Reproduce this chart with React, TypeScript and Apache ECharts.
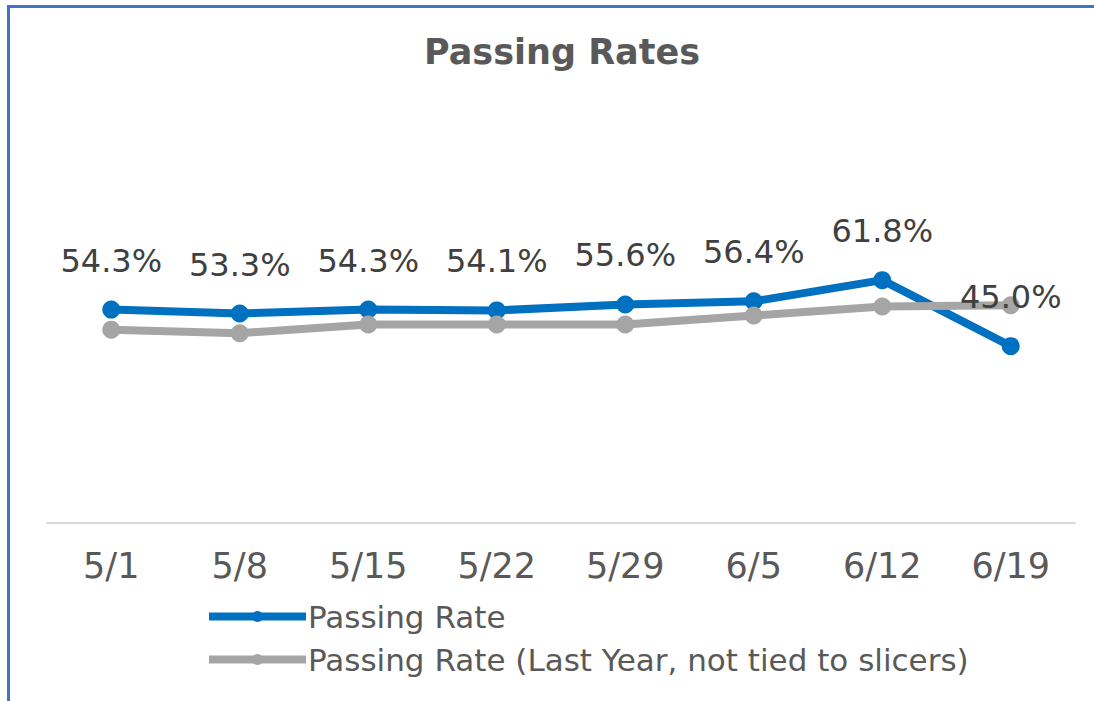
import React, { useEffect, useRef } from "react";
import * as echarts from "echarts";

const categories = ["5/1", "5/8", "5/15", "5/22", "5/29", "6/5", "6/12", "6/19"];
const passingRate = [54.3, 53.3, 54.3, 54.1, 55.6, 56.4, 61.8, 45.0];
const passingRateLastYear = [49.2, 48.3, 50.5, 50.5, 50.5, 52.8, 55.1, 55.4];
const seriesNames = ["Passing Rate", "Passing Rate (Last Year, not tied to slicers)"];
const titleText = "Passing Rates";

const FONT = "DejaVu Sans";

export default function App() {
  const ref = useRef<HTMLDivElement>(null);
  useEffect(() => {
    if (!ref.current) return;
    const chart = echarts.init(ref.current, null, { renderer: "svg" });
    chart.setOption({
      animation: false,
      backgroundColor: "#ffffff",
      textStyle: { fontFamily: FONT },
      graphic: [
        { type: "rect", shape: { x: 7, y: 5, width: 3, height: 700 }, style: { fill: "#4472C4" }, silent: true },
        { type: "rect", shape: { x: 7, y: 5, width: 1090, height: 3 }, style: { fill: "#4472C4" }, silent: true },
        {
          type: "text",
          x: 562,
          y: 52,
          style: {
            text: titleText,
            fontFamily: FONT,
            fontSize: 35,
            fontWeight: "bold",
            fill: "#595959",
            align: "center",
            verticalAlign: "middle",
          },
        },
      ],
      grid: { left: 47, right: 19, top: 130, bottom: 178 },
      xAxis: {
        type: "category",
        data: categories,
        boundaryGap: true,
        axisLine: { show: true, lineStyle: { color: "#D9D9D9", width: 2 } },
        axisTick: { show: false },
        axisLabel: {
          color: "#595959",
          fontFamily: FONT,
          fontSize: 35,
          margin: 43,
          verticalAlign: "middle",
        },
        splitLine: { show: false },
      },
      yAxis: {
        type: "value",
        min: 0,
        max: 100,
        show: false,
        splitLine: { show: false },
      },
      legend: {
        orient: "vertical",
        left: 205,
        top: 601,
        padding: 0,
        itemWidth: 97,
        itemHeight: 14,
        itemGap: 12,
        textStyle: { color: "#595959", fontFamily: FONT, fontSize: 31, padding: [0, 0, 0, -3] },
        lineStyle: { width: 8 },
        data: seriesNames,
      },
      series: [
        {
          name: seriesNames[0],
          type: "line",
          data: passingRate,
          symbol: "circle",
          symbolSize: 18,
          lineStyle: { color: "#0070C0", width: 8 },
          itemStyle: { color: "#0070C0" },
          label: {
            show: true,
            position: "top",
            distance: 24,
            color: "#404040",
            fontFamily: FONT,
            fontSize: 32,
            formatter: (p: any) => p.value.toFixed(1) + "%",
          },
          z: 2,
        },
        {
          name: seriesNames[1],
          type: "line",
          data: passingRateLastYear,
          symbol: "circle",
          symbolSize: 18,
          lineStyle: { color: "#A5A5A5", width: 8 },
          itemStyle: { color: "#A5A5A5" },
          label: { show: false },
          z: 2,
        },
      ],
    });
    return () => chart.dispose();
  }, []);
  return (
    <div
      ref={ref}
      style={{ position: "absolute", left: 0, top: 0, width: 1094, height: 701 }}
    />
  );
}
